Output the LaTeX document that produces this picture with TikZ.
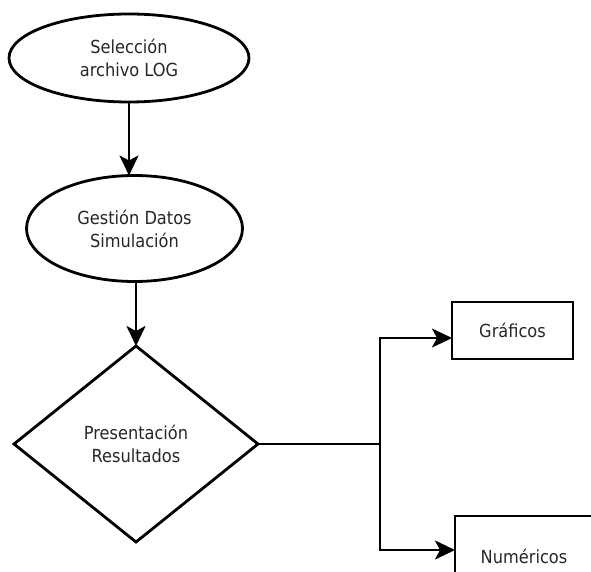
\documentclass[tikz,border=0pt]{standalone}
\usepackage{fontspec}
\setmainfont{DejaVu Sans Condensed}
\usetikzlibrary{shapes.geometric,arrows.meta}
\begin{document}
\begin{tikzpicture}[x=1pt,y=-1pt,
  every node/.style={font=\fontsize{18pt}{23pt}\selectfont, align=center, inner sep=0pt, outer sep=0pt, text=black!85},
  oval/.style={draw, line width=2.8pt, ellipse},
  decision/.style={draw, line width=2.8pt, diamond},
  rbox/.style={draw, line width=2.8pt, rectangle},
  arr/.style={line width=2.5pt, -{Stealth[length=20pt,width=19pt,inset=5pt]}},
  wire/.style={line width=2.5pt}]
\useasboundingbox (0,0) rectangle (591,572);
\clip (0,0) rectangle (591,572);
\node[oval, minimum width=240pt, minimum height=88pt] (e1) at (129,58) {Selección\\archivo LOG};
\node[oval, minimum width=216pt, minimum height=106pt] (e2) at (134.5,228.5) {Gestión Datos\\Simulación};
\node[decision, minimum width=244pt, minimum height=196pt] (d) at (136,444) {Presentación\\Resultados};
\node[rbox, minimum width=121pt, minimum height=57pt] (g) at (512.5,330.5) {Gráficos};
\node[rbox, minimum width=138pt, minimum height=68pt, text height=26pt, text depth=0pt] (n) at (524,550) {Numéricos};
\coordinate (j) at (380,444);
\draw[arr] (e1.south) -- (e1.south |- e2.north);
\draw[arr] (d.north |- e2.south) -- (d.north);
\draw[wire] (d.east) -- (j);
\draw[arr] (j) |- ([yshift=-7.5pt]g.west);
\draw[arr] (j) |- (n.west);
\end{tikzpicture}
\end{document}
